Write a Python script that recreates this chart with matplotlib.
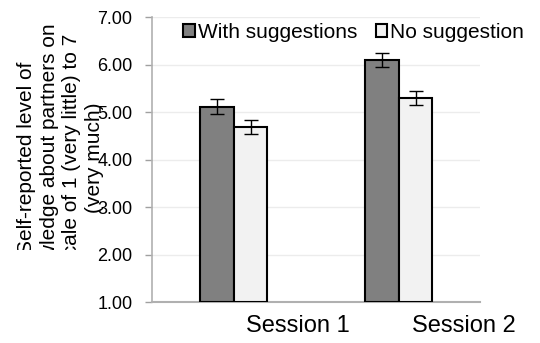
import numpy as np
import matplotlib.pyplot as plt
from matplotlib.patches import Rectangle

plt.rcParams['font.family'] = ['Liberation Sans', 'DejaVu Sans']

# data
sessions = ["Session 1", "Session 2"]
with_sugg = [5.11, 6.09]
with_err = [0.16, 0.15]
no_sugg = [4.68, 5.29]
no_err = [0.15, 0.15]
series_names = ["With suggestions", "No suggestion"]
yticks = [1, 2, 3, 4, 5, 6, 7]
ylabel = ("Self-reported level of\nknowledge about partners on\n"
          "a scale of 1 (very little) to 7\n(very much)")

fig = plt.figure(figsize=(5.4, 3.43), dpi=100)
ax = fig.add_axes([0.281, 0.1195, 0.608, 0.8305])
ax.set_zorder(6)

x = np.arange(len(sessions))
w = 0.203
ekw = dict(ecolor="black", elinewidth=1.0, capsize=5, capthick=1.0)
ax.bar(x - w / 2, np.array(with_sugg) - 1, w, bottom=1, color="#808080",
       edgecolor="black", linewidth=1.5, yerr=with_err, error_kw=ekw,
       label=series_names[0], zorder=3)
ax.bar(x + w / 2, np.array(no_sugg) - 1, w, bottom=1, color="#f2f2f2",
       edgecolor="black", linewidth=1.5, yerr=no_err, error_kw=ekw,
       label=series_names[1], zorder=3)

ax.set_ylim(1, 7)
ax.set_xlim(-0.497, 1.491)
ax.set_yticks(yticks)
ax.set_yticklabels(["%.2f" % v for v in yticks], fontsize=13)
ax.set_xticks(x + 0.39)
ax.set_xticklabels(sessions, fontsize=17)
ax.tick_params(axis="x", length=0, pad=9)
ax.tick_params(axis="y", length=5, color="#a0a0a0", width=1, pad=9)
ax.yaxis.grid(True, color="#ececec", linewidth=1, zorder=0)
for s in ["top", "right"]:
    ax.spines[s].set_visible(False)
ax.spines["left"].set_color("#b0b0b0")
ax.spines["left"].set_linewidth(1.2)
ax.spines["bottom"].set_color("#b0b0b0")
ax.spines["bottom"].set_linewidth(1.5)

ax.legend(loc="upper left", bbox_to_anchor=(0.07, 1.01), ncol=2,
          frameon=False, fontsize=15, handlelength=0.55,
          handleheight=0.55, handletextpad=0.15, columnspacing=0.9,
          borderaxespad=0)

fig.text(0.112, 0.539, ylabel, rotation=90, ha="center", va="center",
         fontsize=15, multialignment="center", linespacing=1.25, zorder=3)

# the lower part of the label is blanked out in the reference
fig.patches.append(Rectangle((0, 0), 0.26, 0.27, transform=fig.transFigure,
                             facecolor="white", edgecolor="none", zorder=4))

fig.savefig("out.png", dpi=100)
